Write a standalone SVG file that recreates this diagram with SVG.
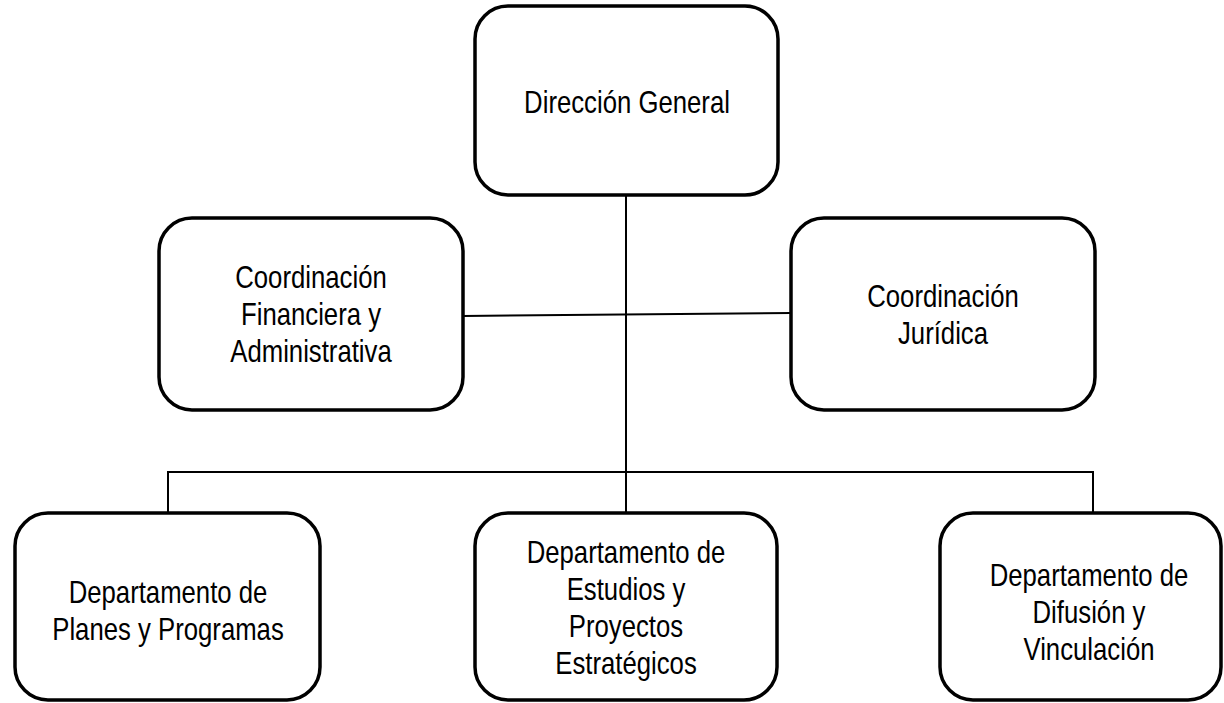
<svg xmlns="http://www.w3.org/2000/svg" width="1224" height="703" viewBox="0 0 1224 703">
<style>
.box{fill:#fff;stroke:#000;stroke-width:3.5}
.lbl{font-family:"Liberation Sans",Arial,sans-serif;font-size:31px;fill:#000;text-anchor:middle}
.con{stroke:#000;stroke-width:2;fill:none}
</style>
<rect width="1224" height="703" fill="#fff"/>
<g id="connectors">
<line class="con" x1="626" y1="195" x2="626" y2="513"/>
<line class="con" x1="463" y1="316" x2="791" y2="313"/>
<polyline class="con" points="168,513 168,472 1093,472 1093,513"/>
</g>
<g id="direccion-general">
<rect class="box" x="475" y="6" width="303" height="189" rx="33"/>
<text class="lbl" transform="translate(627 113) scale(0.83 1)">Dirección General</text>
</g>
<g id="coord-financiera">
<rect class="box" x="159" y="218" width="304" height="192" rx="33"/>
<text class="lbl" transform="translate(311 288) scale(0.83 1)">Coordinación</text>
<text class="lbl" transform="translate(311 325) scale(0.83 1)">Financiera y</text>
<text class="lbl" transform="translate(311 362) scale(0.83 1)">Administrativa</text>
</g>
<g id="coord-juridica">
<rect class="box" x="791" y="218" width="304" height="192" rx="33"/>
<text class="lbl" transform="translate(943 307) scale(0.83 1)">Coordinación</text>
<text class="lbl" transform="translate(943 344) scale(0.83 1)">Jurídica</text>
</g>
<g id="depto-planes">
<rect class="box" x="15" y="513" width="305" height="187" rx="33"/>
<text class="lbl" transform="translate(168 603) scale(0.83 1)">Departamento de</text>
<text class="lbl" transform="translate(168 640) scale(0.83 1)">Planes y Programas</text>
</g>
<g id="depto-estudios">
<rect class="box" x="475" y="513" width="302" height="187" rx="33"/>
<text class="lbl" transform="translate(626 563) scale(0.83 1)">Departamento de</text>
<text class="lbl" transform="translate(626 600) scale(0.83 1)">Estudios y</text>
<text class="lbl" transform="translate(626 637) scale(0.83 1)">Proyectos</text>
<text class="lbl" transform="translate(626 674) scale(0.83 1)">Estratégicos</text>
</g>
<g id="depto-difusion">
<rect class="box" x="940" y="513" width="281" height="187" rx="33"/>
<text class="lbl" transform="translate(1089 586) scale(0.83 1)">Departamento de</text>
<text class="lbl" transform="translate(1089 623) scale(0.83 1)">Difusión y</text>
<text class="lbl" transform="translate(1089 660) scale(0.83 1)">Vinculación</text>
</g>
</svg>
